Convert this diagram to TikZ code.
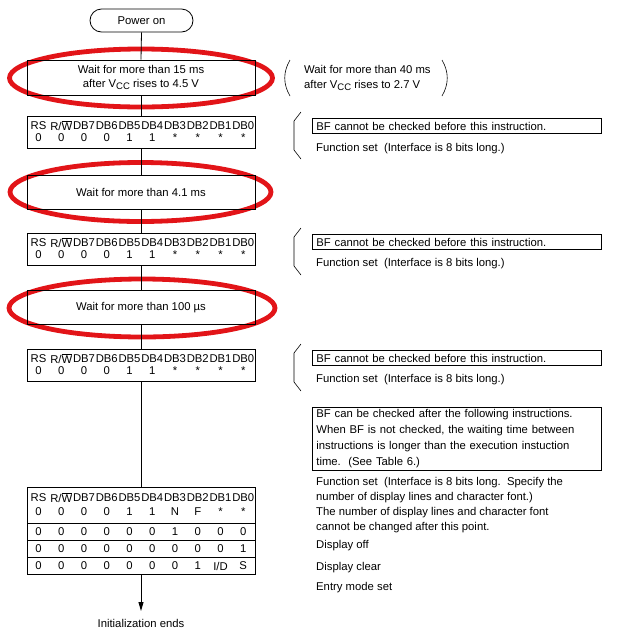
\documentclass[tikz,border=0pt]{standalone}
\usepackage{fontspec}
\setmainfont{Liberation Sans}
\usetikzlibrary{arrows.meta}
\definecolor{redmark}{RGB}{226,20,24}
\newcommand{\vcc}{V\raisebox{-0.35ex}{\fontsize{9.5}{9.5}\selectfont CC}}
\newcommand{\rw}{R/$\overline{\mbox{W}}$}
\newcommand{\st}{\raisebox{-0.35ex}{*}}
\newcommand{\tabrow}[3]{\foreach \v [count=\i from 0] in {#2} {\node[cell] (#3-\i) at ({38.5+22.75*\i},#1) {\v};}}
\begin{document}
\begin{tikzpicture}[x=1pt,y=-1pt,
  every node/.style={font=\fontsize{11.3}{14.5}\selectfont},
  box/.style={draw, line width=0.8pt, minimum width=228pt, inner sep=0pt, align=center},
  tbl/.style={draw, line width=0.8pt, minimum width=228pt, inner sep=0pt},
  cell/.style={inner sep=0pt, anchor=center},
  oval/.style={draw=redmark, line width=4.8pt},
  link/.style={line width=0.8pt},
  note/.style={draw, line width=0.8pt, anchor=west, text width=281pt, inner xsep=4pt, inner ysep=0pt, minimum height=15pt, align=left},
  plain/.style={anchor=west, inner sep=0pt, align=left},
  brk/.style={line width=0.6pt, line join=round}]
\useasboundingbox (0,0) rectangle (620,638);
% red ovals
\draw[oval] (141,78) ellipse [x radius=131.5, y radius=29];
\draw[oval] (140.5,192) ellipse [x radius=130.5, y radius=29.5];
\draw[oval] (142,308) ellipse [x radius=133, y radius=29];
% flow boxes
\node[draw, line width=0.8pt, rounded corners=11.5pt, minimum width=103pt, minimum height=23pt, inner sep=0pt] (pw) at (141.5,20.5) {Power on};
\node[box, minimum height=35pt] (w1) at (141,77.5) {Wait for more than 15 ms\\after \vcc\ rises to 4.5 V};
\node[tbl, minimum height=32pt] (t1) at (141,132) {};
\node[box, minimum height=34pt] (w2) at (141,192) {Wait for more than 4.1 ms};
\node[tbl, minimum height=32pt] (t2) at (141,249) {};
\node[box, minimum height=34pt] (w3) at (141,307.5) {Wait for more than 100 µs};
\node[tbl, minimum height=32pt] (t3) at (141,365) {};
\node[tbl, minimum height=87pt] (t4) at (141,530.5) {};
\draw[link] (27,523) -- (255,523);
\draw[link] (27,540) -- (255,540);
\draw[link] (27,557) -- (255,557);
% table contents
\tabrow{126}{RS,\rw,DB7,DB6,DB5,DB4,DB3,DB2,DB1,DB0}{h1}
\tabrow{138}{0,0,0,0,1,1,\st,\st,\st,\st}{v1}
\tabrow{243}{RS,\rw,DB7,DB6,DB5,DB4,DB3,DB2,DB1,DB0}{h2}
\tabrow{255}{0,0,0,0,1,1,\st,\st,\st,\st}{v2}
\tabrow{359}{RS,\rw,DB7,DB6,DB5,DB4,DB3,DB2,DB1,DB0}{h3}
\tabrow{371}{0,0,0,0,1,1,\st,\st,\st,\st}{v3}
\tabrow{498}{RS,\rw,DB7,DB6,DB5,DB4,DB3,DB2,DB1,DB0}{h4}
\tabrow{512}{0,0,0,0,1,1,N,F,\st,\st}{v4}
\tabrow{532}{0,0,0,0,0,0,1,0,0,0}{r2}
\tabrow{549}{0,0,0,0,0,0,0,0,0,1}{r3}
\tabrow{566}{0,0,0,0,0,0,0,1,I/D,S}{r4}
% connectors
\coordinate (end) at (141,611);
\draw[link] (pw.south) -- (w1.north);
\draw[link] (w1.south) -- (t1.north);
\draw[link] (t1.south) -- (w2.north);
\draw[link] (w2.south) -- (t2.north);
\draw[link] (t2.south) -- (w3.north);
\draw[link] (w3.south) -- (t3.north);
\draw[link] (t3.south) -- (t4.north);
\draw[link, -{Triangle[length=9pt, width=5pt]}] (t4.south) -- (end);
\node[inner sep=0pt] (fin) at (141,623) {Initialization ends};
% right side notes
\node[plain] (p1) at (304,78) {Wait for more than 40 ms\\after \vcc\ rises to 2.7 V};
\draw[brk] (290,60) .. controls (283,72) and (283,84) .. (290,96);
\draw[brk] (442,60) .. controls (449,72) and (449,84) .. (442,96);
\draw[brk] (301,112) -- (294,121) -- (294,150) -- (301,159);
\node[note] (b1) at (312,126) {BF cannot be checked before this instruction.};
\node[plain] (f1) at (316,148.5) {Function set\ \ (Interface is 8 bits long.)};
\draw[brk] (301,228) -- (294,237) -- (294,266) -- (301,275);
\node[note] (b2) at (312,242) {BF cannot be checked before this instruction.};
\node[plain] (f2) at (316,264) {Function set\ \ (Interface is 8 bits long.)};
\draw[brk] (301,344) -- (294,353) -- (294,382) -- (301,391);
\node[note] (b3) at (312,358) {BF cannot be checked before this instruction.};
\node[plain] (f3) at (316,380) {Function set\ \ (Interface is 8 bits long.)};
\node[draw, line width=0.8pt, anchor=north west, text width=281pt, inner xsep=4pt, inner ysep=2pt, align=left, font=\fontsize{11.3}{16}\selectfont] (big) at (312,407) {BF can be checked after the following instructions.\\When BF is not checked, the waiting time between\\instructions is longer than the execution instuction\\time.\ \ (See Table 6.)};
\node[plain, anchor=north west, font=\fontsize{11.3}{15}\selectfont] (f4) at (316,477) {Function set\ \ (Interface is 8 bits long.\ \ Specify the\\number of display lines and character font.)\\The number of display lines and character font\\cannot be changed after this point.};
\node[plain] (d1) at (316,546) {Display off};
\node[plain] (d2) at (316,568) {Display clear};
\node[plain] (d3) at (316,588) {Entry mode set};
\end{tikzpicture}
\end{document}
